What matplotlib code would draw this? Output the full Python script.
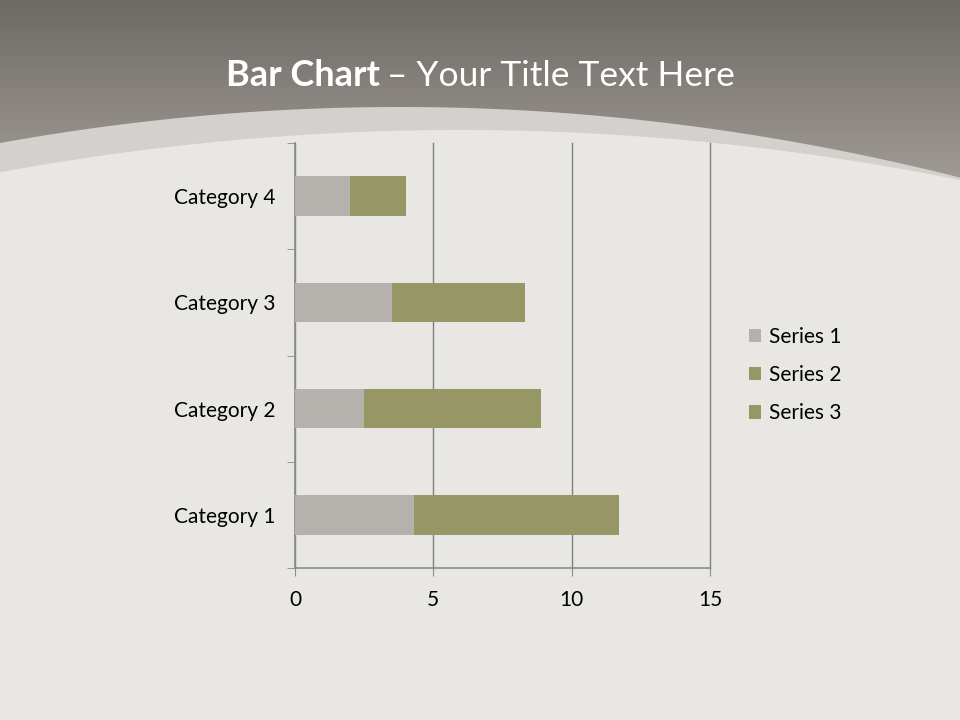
import matplotlib.pyplot as plt
import numpy as np

categories = ["Category 1", "Category 2", "Category 3", "Category 4"]
series_names = ["Series 1", "Series 2", "Series 3"]
series1 = [4.3, 2.5, 3.5, 2.0]
series2 = [2.4, 4.4, 1.8, 1.0]
series3 = [5.0, 2.0, 3.0, 1.0]
colors = ["#b5b1ac", "#979766", "#979766"]
x_ticks = [0, 5, 10, 15]

plt.rcParams['font.family'] = ['Lato', 'DejaVu Sans']

fig = plt.figure(figsize=(9.6, 7.2), dpi=100)

# slide background in pixel coordinates
bg = fig.add_axes([0, 0, 1, 1], zorder=0)
bg.set_xlim(0, 960)
bg.set_ylim(720, 0)
bg.axis('off')
grad = np.linspace(0, 1, 256).reshape(-1, 1)
top = np.array([0x6d, 0x69, 0x64]) / 255
bot = np.array([0xa6, 0xa0, 0x9a]) / 255
img = top + (bot - top) * grad[..., None]
bg.imshow(img, extent=[0, 960, 200, 0], aspect='auto', zorder=0)
xs = np.linspace(0, 960, 400)
outer = 107 + 2.25e-4 * (xs - 400) ** 2
inner = 130 + 2.0e-4 * (xs - 460) ** 2
bg.fill_between(xs, outer, 720, color="#d3d1cd", zorder=1, lw=0)
bg.fill_between(xs, inner, 720, color="#e8e7e4", zorder=2, lw=0)

# title
fig.text(380 / 960, 1 - 76 / 720, "Bar Chart", color="white", fontsize=26,
         fontweight='bold', ha='right', va='center')
fig.text(387 / 960, 1 - 76 / 720, "– Your Title Text Here", color="white",
         fontsize=25.5, ha='left', va='center')

ax = fig.add_axes([295 / 960, 1 - 568 / 720, 415 / 960, 425 / 720], zorder=2)
ax.set_facecolor('none')
y = np.arange(len(categories))
h = 0.37
left = np.zeros(len(categories))
for name, vals, c in zip(series_names, [series1, series2, series3], colors):
    ax.barh(y, vals, height=h, left=left, color=c, label=name, zorder=3)
    left = left + np.array(vals)

ax.set_xlim(0, 15)
ax.set_ylim(-0.5, len(categories) - 0.5)
ax.set_xticks(x_ticks)
ax.set_xticklabels([str(t) for t in x_ticks], fontsize=15)
ax.set_yticks(y)
ax.set_yticklabels(categories, fontsize=15)
ax.set_yticks(np.arange(-0.5, len(categories)), minor=True)
ax.tick_params(axis='y', which='major', length=0, pad=14)
ax.tick_params(axis='y', which='minor', length=6, color="#8c8c8c", direction='out')
ax.tick_params(axis='x', length=6, color="#8c8c8c", direction='out', pad=10)
ax.xaxis.grid(True, color="#7f7f7f", linewidth=1, zorder=1)
for gl in ax.get_xgridlines():
    gl.set_clip_on(False)
ax.set_axisbelow(True)
for s in ['top', 'right']:
    ax.spines[s].set_visible(False)
for s in ['left', 'bottom']:
    ax.spines[s].set_color("#8c8c8c")
    ax.spines[s].set_linewidth(1.2)

ax.legend(loc='center left', bbox_to_anchor=(730 / 960, 1 - 375 / 720),
          bbox_transform=fig.transFigure, frameon=False, fontsize=15,
          handlelength=0.6, handleheight=0.6, handletextpad=0.35,
          labelspacing=0.88)

fig.savefig("out.png", dpi=100)
